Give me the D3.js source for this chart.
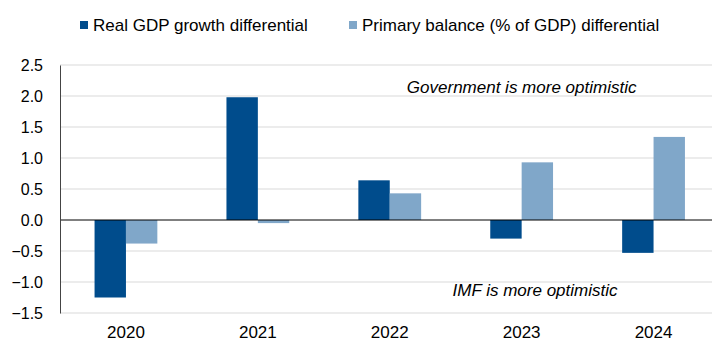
<!DOCTYPE html>
<html>
<head>
<meta charset="utf-8">
<script src="https://cdn.jsdelivr.net/npm/d3@7"></script>
<style>
  html, body { margin: 0; padding: 0; background: #fff; }
  svg { display: block; font-family: "Liberation Sans", Arial, sans-serif; }
</style>
</head>
<body>
<svg id="chart" width="712" height="342"></svg>
<script>
const categories = ["2020", "2021", "2022", "2023", "2024"];
const seriesNames = ["Real GDP growth differential", "Primary balance (% of GDP) differential"];
const gdpGrowthDiff = [-1.25, 1.98, 0.64, -0.30, -0.53];
const primaryBalanceDiff = [-0.38, -0.05, 0.43, 0.93, 1.34];
const yTicks = [-1.5, -1.0, -0.5, 0.0, 0.5, 1.0, 1.5, 2.0, 2.5];
const colors = ["#004c8c", "#80a7c9"];

(function () {
const svg = d3.select("#chart");
const mLeft = 60, mRight = 719.5, mTop = 65, mBottom = 313;

const x = d3.scaleBand().domain(categories).range([mLeft, mRight]).padding(0);
const y = d3.scaleLinear().domain([-1.5, 2.5]).range([mBottom, mTop]);
const barW = x.bandwidth() * 0.238;

// gridlines
svg.append("g").selectAll("line").data(yTicks.filter(d => d !== 0)).join("line")
  .attr("x1", mLeft).attr("x2", mRight)
  .attr("y1", d => y(d)).attr("y2", d => y(d))
  .attr("stroke", "#d9d9d9").attr("stroke-width", 1);

// bars
const series = [gdpGrowthDiff, primaryBalanceDiff];
series.forEach((vals, si) => {
  svg.append("g").selectAll("rect").data(vals).join("rect")
    .attr("x", (d, i) => x(categories[i]) + x.bandwidth() / 2 - barW + si * barW)
    .attr("width", barW)
    .attr("y", d => y(Math.max(0, d)))
    .attr("height", d => Math.abs(y(d) - y(0)))
    .attr("fill", colors[si]);
});

// zero line
svg.append("line").attr("x1", mLeft).attr("x2", mRight)
  .attr("y1", y(0)).attr("y2", y(0)).attr("stroke", "#000").attr("stroke-width", 1);

// y axis
const yAxis = d3.axisLeft(y).tickValues(yTicks).tickFormat(d3.format(".1f")).tickSize(0).tickPadding(17);
const gy = svg.append("g").attr("transform", `translate(${mLeft},0)`).call(yAxis);
gy.select(".domain").attr("stroke", "#444");
gy.selectAll("text").attr("font-size", 16).attr("fill", "#000")
  .attr("font-family", "Liberation Sans, Arial, sans-serif");

// x axis labels
const xAxis = d3.axisBottom(x).tickSize(0).tickPadding(13);
const gx = svg.append("g").attr("transform", `translate(0,${mBottom})`).call(xAxis);
gx.select(".domain").remove();
gx.selectAll("text").attr("font-size", 17).attr("fill", "#000")
  .attr("font-family", "Liberation Sans, Arial, sans-serif");

// legend
const legendItems = [{x: 80, name: seriesNames[0], c: colors[0]}, {x: 349, name: seriesNames[1], c: colors[1]}];
const lg = svg.append("g");
legendItems.forEach(it => {
  lg.append("rect").attr("x", it.x).attr("y", 21).attr("width", 8).attr("height", 8).attr("fill", it.c);
  lg.append("text").attr("x", it.x + 13).attr("y", 30.5).attr("font-size", 17).attr("fill", "#000").text(it.name);
});

// annotations
svg.append("text").attr("x", x("2023") + x.bandwidth() / 2).attr("y", 93)
  .attr("text-anchor", "middle").attr("font-style", "italic").attr("font-size", 17)
  .attr("fill", "#000").text("Government is more optimistic");
svg.append("text").attr("x", 535).attr("y", 296)
  .attr("text-anchor", "middle").attr("font-style", "italic").attr("font-size", 17)
  .attr("fill", "#000").text("IMF is more optimistic");
})();
</script>
</body>
</html>
